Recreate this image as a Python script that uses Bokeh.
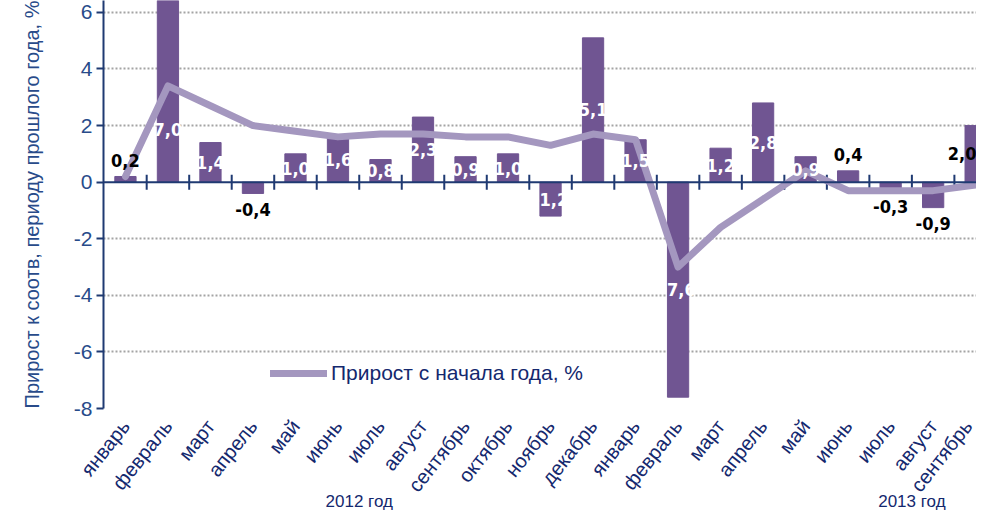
import numpy as np
from bokeh.plotting import figure
from bokeh.models import (ColumnDataSource, Range1d, FixedTicker, Span, LinearAxis,
                          Legend, LegendItem)
from bokeh.core.properties import value
from bokeh.embed import file_html
from bokeh.resources import INLINE

# ---- data ----
months = ["январь", "февраль", "март", "апрель", "май", "июнь", "июль", "август",
          "сентябрь", "октябрь", "ноябрь", "декабрь",
          "январь", "февраль", "март", "апрель", "май", "июнь", "июль", "август",
          "сентябрь"]
yoy_growth = [0.2, 7.0, 1.4, -0.4, 1.0, 1.6, 0.8, 2.3, 0.9, 1.0, -1.2, 5.1,
              1.5, -7.6, 1.2, 2.8, 0.9, 0.4, -0.3, -0.9, 2.0]
ytd_growth = [0.2, 3.4, 2.7, 2.0, 1.8, 1.6, 1.7, 1.7, 1.6, 1.6, 1.3, 1.7,
              1.5, -3.0, -1.6, -0.6, 0.4, -0.3, -0.3, -0.3, -0.1]
y_ticks = [-8, -6, -4, -2, 0, 2, 4, 6]
year_labels = ["2012 год", "2013 год"]
year_centers = [5.5, 18.5]
legend_label = "Прирост с начала года, %"
y_axis_title = "Прирост к соотв, периоду прошлого года, %"

NAVY = "#1F3A72"
TEXT_BLUE = "#284B8A"
DARK_NAVY = "#14286E"
BAR = "#705592"
LINE = "#A497BF"

x = np.arange(len(months))
v = np.array(yoy_growth)
Y_START, Y_END = -8, 6.42
X_START, X_END = -0.516, 20.02

inside = (v >= 0.8) | (v <= -1.0)
edge = x + 0.25 > X_END
lab_y = np.where(inside, np.where(v > Y_END, 1.85, v / 2), v)
lab_off = np.where(inside, 0, np.where(v > 0, -16, 16))
lab_col = np.where(inside & ~edge, "white", "black")
lab_txt = [f"{a:.1f}".replace(".", ",") for a in v]
lab_x = np.where(edge, X_END, x)
lab_align = np.where(edge, "right", "center")

src = ColumnDataSource(dict(x=x, top=v, ytd=ytd_growth, lx=lab_x, ly=lab_y,
                            lo=lab_off, lc=lab_col, lt=lab_txt, la=lab_align))

p = figure(frame_width=873, frame_height=408, output_backend="svg",
           toolbar_location=None,
           x_range=Range1d(X_START, X_END), y_range=Range1d(Y_START, Y_END),
           min_border_left=103, min_border_right=0, min_border_top=0,
           min_border_bottom=0)
p.outline_line_color = None
p.background_fill_color = "white"
p.border_fill_color = "white"

# grid
p.xgrid.grid_line_color = None
p.ygrid.ticker = FixedTicker(ticks=[t for t in y_ticks if t != 0])
p.ygrid.grid_line_color = "#A4A4A4"
p.ygrid.grid_line_dash = "2 2"
p.ygrid.grid_line_width = 2

# bars
p.vbar(x="x", top="top", bottom=0, width=0.5, color=BAR, source=src)

# zero line with boundary ticks
p.add_layout(Span(location=0, dimension="width", line_color=NAVY, line_width=2))
p.scatter(x + 0.5, np.zeros(len(x)), marker="dash", angle=np.pi / 2, size=15,
          line_color=NAVY, line_width=2)

# line
ln = p.line("x", "ytd", source=src, line_color=LINE, line_width=7,
            line_join="round", line_cap="round")

# data labels
p.text("lx", "ly", text="lt", y_offset="lo", text_color="lc", source=src,
       text_align="la", text_baseline="middle",
       text_font=value("DejaVu Sans Condensed"), text_font_style="bold",
       text_font_size="18px")

# y axis
ya = p.yaxis[0]
ya.ticker = FixedTicker(ticks=y_ticks)
ya.major_label_overrides = {t: str(t) for t in y_ticks}
ya.axis_line_color = NAVY
ya.axis_line_width = 2
ya.major_tick_line_color = NAVY
ya.major_tick_line_width = 2
ya.major_tick_out = 7
ya.major_tick_in = 0
ya.minor_tick_line_color = None
ya.major_label_text_font = "Liberation Sans"
ya.major_label_text_font_size = "21px"
ya.major_label_text_color = TEXT_BLUE
ya.major_label_standoff = 4
ya.axis_label = y_axis_title
ya.axis_label_text_font = "Liberation Sans"
ya.axis_label_text_font_size = "20px"
ya.axis_label_text_font_style = "normal"
ya.axis_label_text_color = TEXT_BLUE
ya.axis_label_standoff = 28

# x axis (month labels only)
xa = p.xaxis[0]
xa.ticker = FixedTicker(ticks=list(x))
xa.major_label_overrides = {int(i): m for i, m in zip(x, months)}
xa.major_label_orientation = 0.9
xa.axis_line_color = None
xa.major_tick_line_color = None
xa.minor_tick_line_color = None
xa.major_tick_out = 0
xa.major_tick_in = 0
xa.major_label_text_font = "Liberation Sans"
xa.major_label_text_font_size = "20px"
xa.major_label_text_color = DARK_NAVY
xa.major_label_standoff = 14

# year axis below
yr = LinearAxis(ticker=FixedTicker(ticks=year_centers),
                major_label_overrides={c: t for c, t in zip(year_centers, year_labels)},
                axis_line_color=None, major_tick_line_color=None,
                minor_tick_line_color=None, major_label_standoff=-14,
                major_tick_out=0, major_tick_in=0,
                major_label_text_font="Liberation Sans",
                major_label_text_font_size="17px", major_label_text_color=DARK_NAVY)
p.add_layout(yr, "below")

# legend
leg = Legend(items=[LegendItem(label=legend_label, renderers=[ln])],
             location=(167, 23), background_fill_alpha=0, border_line_color=None,
             padding=0, margin=0, glyph_width=57, glyph_height=20,
             label_standoff=4, label_text_font="Liberation Sans",
             label_text_font_size="21px", label_text_color=DARK_NAVY)
p.add_layout(leg)

open("out.html", "w").write(file_html(p, INLINE))
